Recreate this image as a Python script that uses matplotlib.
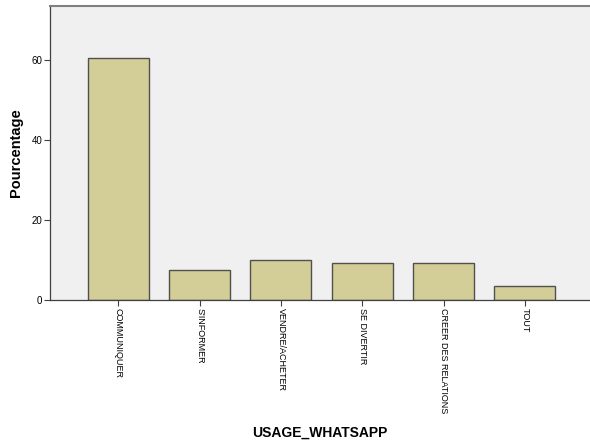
import matplotlib
matplotlib.use('Agg')

import numpy as np
import matplotlib.pyplot as plt

# data
categories = ["COMMUNIQUER", "S'INFORMER", "VENDRE/ACHETER", "SE DIVERTIR",
              "CREER DES RELATIONS", "TOUT"]
percentages = [60.4, 7.5, 10.0, 9.25, 9.25, 3.5]
y_ticks = [0, 20, 40, 60]

plt.rcParams['font.family'] = ['Liberation Sans', 'DejaVu Sans']

fig = plt.figure(figsize=(5.9, 4.44), dpi=100)
ax = fig.add_axes([50 / 590, 1 - 300 / 444, 1 - 50 / 590, 294 / 444])
ax.set_facecolor('#f0f0f0')

x = np.arange(len(categories))
ax.bar(x, percentages, width=0.75, color='#d3ce97', edgecolor='#505050', linewidth=1.0)

ax.set_xlim(-0.84, 5.8)
ax.set_ylim(0, 73.5)
ax.set_yticks(y_ticks)
ax.set_xticks(x)
ax.set_xticklabels(categories, rotation=-90, fontsize=6.5, va='top', ha='center')
ax.tick_params(axis='y', labelsize=7, length=4, color='#404040', width=0.8, pad=1.5)
ax.tick_params(axis='x', length=4, color='#404040', width=0.8, pad=1.5)

for s in ['left', 'bottom']:
    ax.spines[s].set_color('#404040')
    ax.spines[s].set_linewidth(0.9)
ax.spines['top'].set_color('#808080')
ax.spines['top'].set_linewidth(1.5)
ax.spines['right'].set_visible(False)

ax.set_ylabel('Pourcentage', fontsize=10.5, fontweight='bold', va='center')
ax.yaxis.set_label_coords(-0.063, 0.5)
ax.set_xlabel('USAGE_WHATSAPP', fontsize=10, fontweight='bold', va='center')
ax.xaxis.set_label_coords(0.5, -0.452)

fig.savefig('out.png', dpi=100)
